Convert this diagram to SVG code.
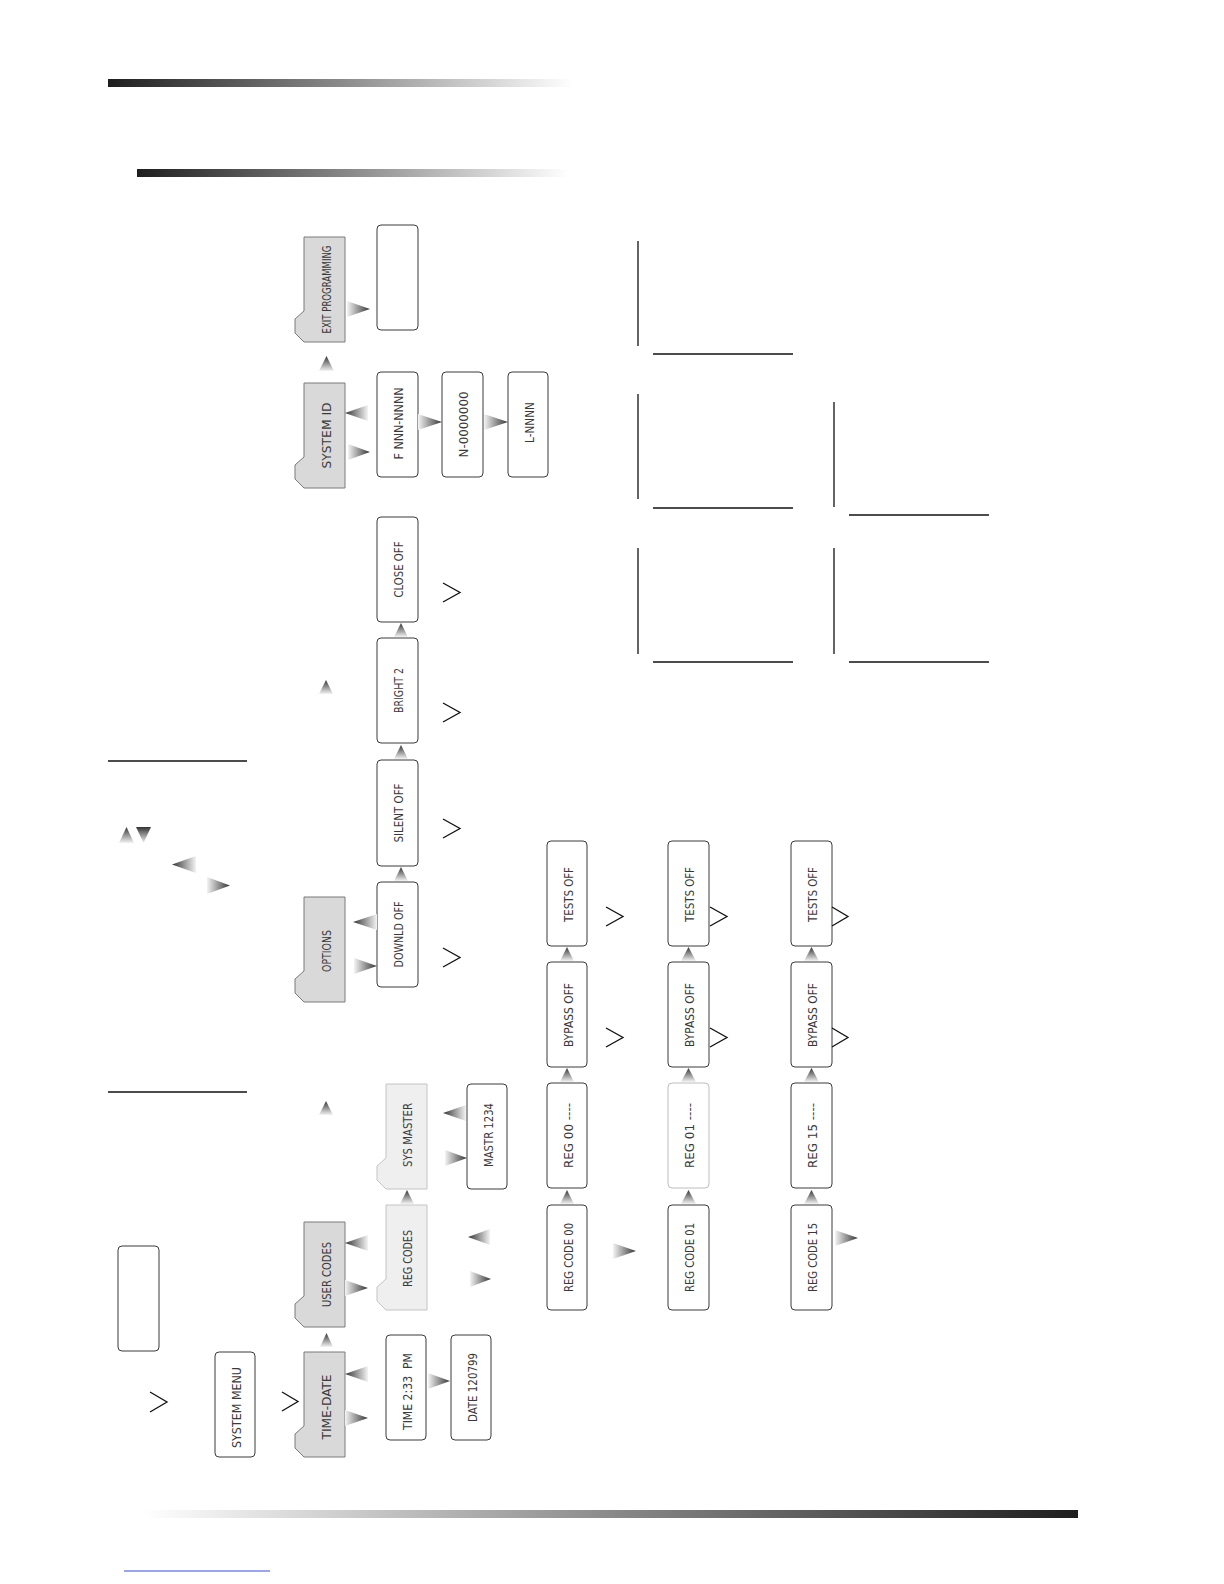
<svg xmlns="http://www.w3.org/2000/svg" width="1224" height="1584" viewBox="0 0 1224 1584">
<defs>
<linearGradient id="barL" x1="0" y1="0" x2="1" y2="0"><stop offset="0" stop-color="#1e1e1e"/><stop offset="0.5" stop-color="#8a8a8a"/><stop offset="1" stop-color="#ffffff"/></linearGradient>
<linearGradient id="barR" x1="1" y1="0" x2="0" y2="0"><stop offset="0" stop-color="#1e1e1e"/><stop offset="0.5" stop-color="#8a8a8a"/><stop offset="1" stop-color="#ffffff"/></linearGradient>
<linearGradient id="gR" x1="0" y1="0" x2="1" y2="0"><stop offset="0" stop-color="#f4f4f4"/><stop offset="1" stop-color="#333"/></linearGradient>
<linearGradient id="gL" x1="1" y1="0" x2="0" y2="0"><stop offset="0" stop-color="#f4f4f4"/><stop offset="1" stop-color="#333"/></linearGradient>
<linearGradient id="gV" x1="0" y1="1" x2="0" y2="0"><stop offset="0" stop-color="#f4f4f4"/><stop offset="1" stop-color="#333"/></linearGradient>
</defs>
<style>
.tab{fill:#d9d9d9;stroke:#7a7a7a;stroke-width:1}
.tabl{fill:#efefef;stroke:#c4c4c4;stroke-width:1}
.box{fill:#fff;stroke:#3a3a3a;stroke-width:1}
.boxl{fill:#fff;stroke:#bdbdbd;stroke-width:1}
.t{font-family:"DejaVu Sans Condensed","DejaVu Sans",sans-serif;font-size:13px;font-weight:300;fill:#3a3a3a;text-anchor:middle;dominant-baseline:central;white-space:pre}
.aR{fill:url(#gR)}
.aL{fill:url(#gL)}
.aV{fill:url(#gV)}
.ch{fill:none;stroke:#111;stroke-width:1.3}
.ln{stroke:#111;stroke-width:1.3}
</style>
<rect x="108" y="79" width="465" height="8" fill="url(#barL)"/>
<rect x="137" y="169" width="431" height="8" fill="url(#barL)"/>
<rect x="143" y="1510" width="935" height="8" fill="url(#barR)"/>
<line x1="124" y1="1571" x2="270" y2="1571" stroke="#3a4fc8" stroke-width="1.2"/>
<g id="rules">
<line class="ln" x1="108" y1="761" x2="247" y2="761"/>
<line class="ln" x1="108" y1="1092" x2="247" y2="1092"/>
<line class="ln" x1="638" y1="241" x2="638" y2="346"/>
<line class="ln" x1="653" y1="354" x2="793" y2="354"/>
<line class="ln" x1="638" y1="394" x2="638" y2="499"/>
<line class="ln" x1="653" y1="508" x2="793" y2="508"/>
<line class="ln" x1="834" y1="402" x2="834" y2="507"/>
<line class="ln" x1="849" y1="515" x2="989" y2="515"/>
<line class="ln" x1="638" y1="548" x2="638" y2="654"/>
<line class="ln" x1="653" y1="662" x2="793" y2="662"/>
<line class="ln" x1="834" y1="548" x2="834" y2="654"/>
<line class="ln" x1="849" y1="662" x2="989" y2="662"/>
</g>
<g id="legend">
<polygon class="aV" points="119,843 126.5,827 134,843"/>
<polygon class="aV" points="136,827 151,827 143.5,843"/>
<polygon class="aL" points="196,856 172,864.5 196,873"/>
<polygon class="aR" points="207,877 230,885.5 207,894"/>
</g>
<g id="n-exit"><path class="tab" d="M304 237 H345 V342 H304 L295 333 V319 L304 311 Z"/><text class="t" transform="translate(326 289.5) rotate(-90)" textLength="88" lengthAdjust="spacingAndGlyphs">EXIT PROGRAMMING</text></g>
<g id="n-exitbox"><rect class="box" x="377" y="225" width="41" height="105" rx="4"/></g>
<g id="n-sysid"><path class="tab" d="M304 383 H345 V488 H304 L295 479 V465 L304 457 Z"/><text class="t" transform="translate(326 435.5) rotate(-90)" textLength="66" lengthAdjust="spacingAndGlyphs">SYSTEM ID</text></g>
<g id="n-fnnn"><rect class="box" x="377" y="372" width="41" height="105" rx="4"/><text class="t" transform="translate(398.5 423.5) rotate(-90)" textLength="72" lengthAdjust="spacingAndGlyphs">F NNN-NNNN</text></g>
<g id="n-n000"><rect class="box" x="442" y="372" width="41" height="105" rx="4"/><text class="t" transform="translate(463.5 424.5) rotate(-90)" textLength="66" lengthAdjust="spacingAndGlyphs">N-0000000</text></g>
<g id="n-lnnn"><rect class="box" x="508" y="372" width="40" height="105" rx="4"/><text class="t" transform="translate(529 422.5) rotate(-90)" textLength="41" lengthAdjust="spacingAndGlyphs">L-NNNN</text></g>
<g id="n-close"><rect class="box" x="377" y="517" width="41" height="105" rx="4"/><text class="t" transform="translate(398.5 569.5) rotate(-90)" textLength="56" lengthAdjust="spacingAndGlyphs">CLOSE OFF</text></g>
<g id="n-bright"><rect class="box" x="377" y="638" width="41" height="105" rx="4"/><text class="t" transform="translate(398.5 690.5) rotate(-90)" textLength="45" lengthAdjust="spacingAndGlyphs">BRIGHT 2</text></g>
<g id="n-silent"><rect class="box" x="377" y="760" width="41" height="106" rx="4"/><text class="t" transform="translate(398.5 813) rotate(-90)" textLength="59" lengthAdjust="spacingAndGlyphs">SILENT OFF</text></g>
<g id="n-downld"><rect class="box" x="377" y="882" width="41" height="105" rx="4"/><text class="t" transform="translate(398.5 934.5) rotate(-90)" textLength="66" lengthAdjust="spacingAndGlyphs">DOWNLD OFF</text></g>
<g id="n-options"><path class="tab" d="M304 897 H345 V1002 H304 L295 993 V979 L304 971 Z"/><text class="t" transform="translate(326 951) rotate(-90)" textLength="42" lengthAdjust="spacingAndGlyphs">OPTIONS</text></g>
<g id="n-usercodes"><path class="tab" d="M304 1222 H345 V1327 H304 L295 1318 V1304 L304 1296 Z"/><text class="t" transform="translate(326 1274.5) rotate(-90)" textLength="65" lengthAdjust="spacingAndGlyphs">USER CODES</text></g>
<g id="n-timedate"><path class="tab" d="M304 1352 H345 V1457 H304 L295 1448 V1434 L304 1426 Z"/><text class="t" transform="translate(326 1407) rotate(-90)" textLength="65" lengthAdjust="spacingAndGlyphs">TIME-DATE</text></g>
<g id="n-regcodes"><path class="tabl" d="M386 1205 H427 V1310 H386 L377 1301 V1287 L386 1279 Z"/><text class="t" transform="translate(407.5 1258.5) rotate(-90)" textLength="57" lengthAdjust="spacingAndGlyphs">REG CODES</text></g>
<g id="n-sysmaster"><path class="tabl" d="M386 1084 H427 V1189 H386 L377 1180 V1166 L386 1158 Z"/><text class="t" transform="translate(407.5 1135) rotate(-90)" textLength="64" lengthAdjust="spacingAndGlyphs">SYS MASTER</text></g>
<g id="n-mastr"><rect class="box" x="467" y="1084" width="40" height="105" rx="4"/><text class="t" transform="translate(488 1135) rotate(-90)" textLength="64" lengthAdjust="spacingAndGlyphs">MASTR 1234</text></g>
<g id="n-blank"><rect class="box" x="118" y="1246" width="41" height="105" rx="4"/></g>
<g id="n-sysmenu"><rect class="box" x="215" y="1352" width="40" height="105" rx="4"/><text class="t" transform="translate(236 1407.5) rotate(-90)" textLength="81" lengthAdjust="spacingAndGlyphs">SYSTEM MENU</text></g>
<g id="n-time"><rect class="box" x="386" y="1335" width="40" height="105" rx="4"/><text class="t" transform="translate(407 1391.5) rotate(-90)" textLength="77" lengthAdjust="spacingAndGlyphs">TIME 2:33  PM</text></g>
<g id="n-date"><rect class="box" x="451" y="1335" width="40" height="105" rx="4"/><text class="t" transform="translate(472 1387.5) rotate(-90)" textLength="69" lengthAdjust="spacingAndGlyphs">DATE 120799</text></g>
<g id="n-tests0"><rect class="box" x="547" y="841" width="40" height="105" rx="4"/><text class="t" transform="translate(568 894.5) rotate(-90)" textLength="55" lengthAdjust="spacingAndGlyphs">TESTS OFF</text></g>
<g id="n-bypass0"><rect class="box" x="547" y="962" width="40" height="105" rx="4"/><text class="t" transform="translate(568 1015) rotate(-90)" textLength="64" lengthAdjust="spacingAndGlyphs">BYPASS OFF</text></g>
<g id="n-reg0"><rect class="box" x="547" y="1083" width="40" height="105" rx="4"/><text class="t" transform="translate(568 1135.5) rotate(-90)" textLength="65" lengthAdjust="spacingAndGlyphs">REG 00 ----</text></g>
<g id="n-regcode0"><rect class="box" x="547" y="1205" width="40" height="105" rx="4"/><text class="t" transform="translate(568 1257.5) rotate(-90)" textLength="69" lengthAdjust="spacingAndGlyphs">REG CODE 00</text></g>
<g id="n-tests1"><rect class="box" x="668" y="841" width="41" height="105" rx="4"/><text class="t" transform="translate(689.5 894.5) rotate(-90)" textLength="55" lengthAdjust="spacingAndGlyphs">TESTS OFF</text></g>
<g id="n-bypass1"><rect class="box" x="668" y="962" width="41" height="105" rx="4"/><text class="t" transform="translate(689.5 1015) rotate(-90)" textLength="64" lengthAdjust="spacingAndGlyphs">BYPASS OFF</text></g>
<g id="n-reg1"><rect class="boxl" x="668" y="1083" width="41" height="105" rx="4"/><text class="t" transform="translate(689.5 1135.5) rotate(-90)" textLength="65" lengthAdjust="spacingAndGlyphs">REG 01 ----</text></g>
<g id="n-regcode1"><rect class="box" x="668" y="1205" width="41" height="105" rx="4"/><text class="t" transform="translate(689.5 1257.5) rotate(-90)" textLength="69" lengthAdjust="spacingAndGlyphs">REG CODE 01</text></g>
<g id="n-tests15"><rect class="box" x="791" y="841" width="41" height="105" rx="4"/><text class="t" transform="translate(812.5 894.5) rotate(-90)" textLength="55" lengthAdjust="spacingAndGlyphs">TESTS OFF</text></g>
<g id="n-bypass15"><rect class="box" x="791" y="962" width="41" height="105" rx="4"/><text class="t" transform="translate(812.5 1015) rotate(-90)" textLength="64" lengthAdjust="spacingAndGlyphs">BYPASS OFF</text></g>
<g id="n-reg15"><rect class="box" x="791" y="1083" width="41" height="105" rx="4"/><text class="t" transform="translate(812.5 1135.5) rotate(-90)" textLength="65" lengthAdjust="spacingAndGlyphs">REG 15 ----</text></g>
<g id="n-regcode15"><rect class="box" x="791" y="1205" width="41" height="105" rx="4"/><text class="t" transform="translate(812.5 1257.5) rotate(-90)" textLength="69" lengthAdjust="spacingAndGlyphs">REG CODE 15</text></g>
<g id="connectors">
<polygon class="aV" points="319,371 326.5,356 334,371"/>
<polygon class="aV" points="320,1347 326.5,1333 333,1347"/>
<polygon class="aV" points="319,1115 326,1101 333,1115"/>
<polygon class="aV" points="319,694 326,680 333,694"/>
<polygon class="aV" points="394,637 401,623 408,637"/>
<polygon class="aV" points="394,759 401,745 408,759"/>
<polygon class="aV" points="394,881 401,867 408,881"/>
<polygon class="aV" points="400,1204 407,1190 414,1204"/>
<polygon class="aV" points="560,961 567,947 574,961"/>
<polygon class="aV" points="560,1082 567,1068 574,1082"/>
<polygon class="aV" points="560,1204 567,1190 574,1204"/>
<polygon class="aV" points="681,961 688.5,947 696,961"/>
<polygon class="aV" points="681,1082 688.5,1068 696,1082"/>
<polygon class="aV" points="681,1204 688.5,1190 696,1204"/>
<polygon class="aV" points="804,961 811.5,947 819,961"/>
<polygon class="aV" points="804,1082 811.5,1068 819,1082"/>
<polygon class="aV" points="804,1204 811.5,1190 819,1204"/>
<polygon class="aR" points="347,301 370,309 347,317"/>
<polygon class="aR" points="348,444 370,452 348,460"/>
<polygon class="aL" points="368,405 345,413 368,421"/>
<polygon class="aR" points="418,414 442,422 418,430"/>
<polygon class="aR" points="484,414 508,422 484,430"/>
<polygon class="aL" points="377,914 353,922 377,930"/>
<polygon class="aR" points="354,958 377,966 354,974"/>
<polygon class="aL" points="368,1235 345,1243 368,1251"/>
<polygon class="aR" points="345,1280 368,1288 345,1296"/>
<polygon class="aL" points="368,1366 345,1374 368,1382"/>
<polygon class="aR" points="345,1410 368,1418 345,1426"/>
<polygon class="aR" points="428,1373 450,1381 428,1389"/>
<polygon class="aL" points="466,1105 443,1113 466,1121"/>
<polygon class="aR" points="445,1150 467,1158 445,1166"/>
<polygon class="aL" points="490,1229 468,1237 490,1245"/>
<polygon class="aR" points="470,1271 491,1279 470,1287"/>
<polygon class="aR" points="613,1243 636,1251 613,1259"/>
<polygon class="aR" points="835,1230 858,1238 835,1246"/>
<polyline class="ch" points="150,1392 167,1402 150,1412"/>
<polyline class="ch" points="282,1392 298,1401.5 282,1411"/>
<polyline class="ch" points="443,583 460,592.5 443,602"/>
<polyline class="ch" points="443,703 460,712.5 443,722"/>
<polyline class="ch" points="443,819 460,828.5 443,838"/>
<polyline class="ch" points="443,948 460,957.5 443,967"/>
<polyline class="ch" points="606,907 623,916.5 606,926"/>
<polyline class="ch" points="606,1028 623,1037.5 606,1047"/>
<polyline class="ch" points="710,907 727,916.5 710,926"/>
<polyline class="ch" points="710,1028 727,1037.5 710,1047"/>
<polyline class="ch" points="832,907 848,916.5 832,926"/>
<polyline class="ch" points="832,1028 848,1037.5 832,1047"/>
</g>
</svg>
